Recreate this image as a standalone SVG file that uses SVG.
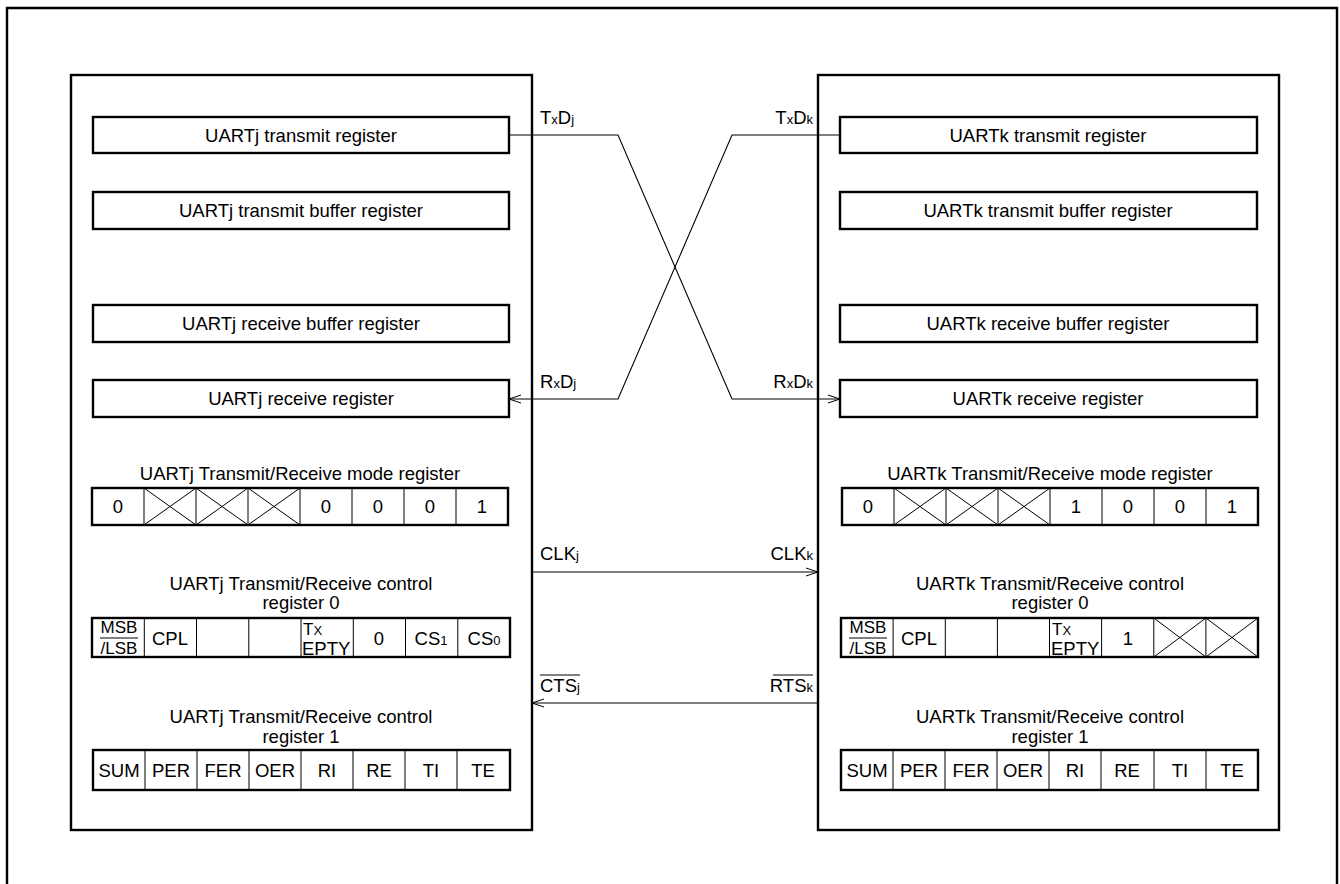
<svg xmlns="http://www.w3.org/2000/svg" width="1340" height="884" viewBox="0 0 1340 884">
<defs>
<style>
.thick{fill:none;stroke:#000;stroke-width:2.4}
.thin{fill:none;stroke:#000;stroke-width:1}
.conn{fill:none;stroke:#000;stroke-width:1.1}
text{font-family:"Liberation Sans",Arial,sans-serif;font-size:18.5px;fill:#000}
.c{text-anchor:middle}
.r{text-anchor:end}
.s{font-size:13px}
.m{font-size:17px}
.e{font-size:18.5px}
</style>
<marker id="ah" viewBox="0 0 12 10" refX="12" refY="5" markerWidth="12" markerHeight="10" markerUnits="userSpaceOnUse" orient="auto">
<path d="M0,1 L12,5 L0,9" fill="none" stroke="#000" stroke-width="1"/>
</marker>
</defs>
<rect width="1340" height="884" fill="#fff"/>
<path class="thick" d="M7,886 V8 H1337 V886"/>

<g id="uartj">
<rect class="thick" x="71" y="75" width="461" height="755"/>
<g id="j-tx"><rect class="thick" x="93" y="117" width="416" height="36"/><text class="c" x="301" y="142">UARTj transmit register</text></g>
<g id="j-txbuf"><rect class="thick" x="93" y="192" width="416" height="37"/><text class="c" x="301" y="217">UARTj transmit buffer register</text></g>
<g id="j-rxbuf"><rect class="thick" x="93" y="305" width="416" height="37"/><text class="c" x="301" y="330">UARTj receive buffer register</text></g>
<g id="j-rx"><rect class="thick" x="93" y="380" width="416" height="37"/><text class="c" x="301" y="405">UARTj receive register</text></g>
<g id="j-mode">
<text class="c" x="300" y="480">UARTj Transmit/Receive mode register</text>
<rect class="thick" x="92" y="488" width="416" height="37"/>
<path class="thin" d="M144,488V525M196,488V525M248,488V525M300,488V525M352,488V525M404,488V525M456,488V525"/>
<path class="thin" d="M144,488L196,525M144,525L196,488M196,488L248,525M196,525L248,488M248,488L300,525M248,525L300,488"/>
<text class="c" x="118" y="513">0</text><text class="c" x="326" y="513">0</text><text class="c" x="378" y="513">0</text><text class="c" x="430" y="513">0</text><text class="c" x="482" y="513">1</text>
</g>
<g id="j-ctrl0">
<text class="c" x="301" y="590">UARTj Transmit/Receive control</text>
<text class="c" x="301" y="609">register 0</text>
<rect class="thick" x="92" y="618" width="418" height="39"/>
<path class="thin" d="M144.3,618V657M196.5,618V657M248.8,618V657M301,618V657M353.3,618V657M405.5,618V657M457.8,618V657"/>
<text class="m c" x="119" y="633">MSB</text><path class="thin" d="M100,638H138"/><text class="m c" x="119" y="654">/LSB</text>
<text class="c" x="170" y="645">CPL</text>
<text class="m" x="303" y="635">T<tspan class="s">X</tspan></text><text class="e" x="302" y="655">EPTY</text>
<text class="c" x="379" y="645">0</text>
<text class="c" x="431" y="645">CS<tspan class="s">1</tspan></text>
<text class="c" x="484" y="645">CS<tspan class="s">0</tspan></text>
</g>
<g id="j-ctrl1">
<text class="c" x="301" y="723">UARTj Transmit/Receive control</text>
<text class="c" x="301" y="743">register 1</text>
<rect class="thick" x="93" y="750" width="417" height="40"/>
<path class="thin" d="M145,750V790M197,750V790M249,750V790M301,750V790M353,750V790M405,750V790M457,750V790"/>
<text class="c" x="119" y="777">SUM</text><text class="c" x="171" y="777">PER</text><text class="c" x="223" y="777">FER</text><text class="c" x="275" y="777">OER</text><text class="c" x="327" y="777">RI</text><text class="c" x="379" y="777">RE</text><text class="c" x="431" y="777">TI</text><text class="c" x="483" y="777">TE</text>
</g>
</g>

<g id="uartk">
<rect class="thick" x="818" y="75" width="461" height="755"/>
<g id="k-tx"><rect class="thick" x="840" y="117" width="417" height="36"/><text class="c" x="1048" y="142">UARTk transmit register</text></g>
<g id="k-txbuf"><rect class="thick" x="840" y="192" width="417" height="37"/><text class="c" x="1048" y="217">UARTk transmit buffer register</text></g>
<g id="k-rxbuf"><rect class="thick" x="840" y="305" width="417" height="37"/><text class="c" x="1048" y="330">UARTk receive buffer register</text></g>
<g id="k-rx"><rect class="thick" x="840" y="380" width="417" height="37"/><text class="c" x="1048" y="405">UARTk receive register</text></g>
<g id="k-mode">
<text class="c" x="1050" y="480">UARTk Transmit/Receive mode register</text>
<rect class="thick" x="842" y="488" width="416" height="37"/>
<path class="thin" d="M894,488V525M946,488V525M998,488V525M1050,488V525M1102,488V525M1154,488V525M1206,488V525"/>
<path class="thin" d="M894,488L946,525M894,525L946,488M946,488L998,525M946,525L998,488M998,488L1050,525M998,525L1050,488"/>
<text class="c" x="868" y="513">0</text><text class="c" x="1076" y="513">1</text><text class="c" x="1128" y="513">0</text><text class="c" x="1180" y="513">0</text><text class="c" x="1232" y="513">1</text>
</g>
<g id="k-ctrl0">
<text class="c" x="1050" y="590">UARTk Transmit/Receive control</text>
<text class="c" x="1050" y="609">register 0</text>
<rect class="thick" x="841" y="618" width="417" height="39"/>
<path class="thin" d="M893.1,618V657M945.3,618V657M997.4,618V657M1049.5,618V657M1101.6,618V657M1153.8,618V657M1205.9,618V657"/>
<text class="m c" x="868" y="633">MSB</text><path class="thin" d="M849,638H887"/><text class="m c" x="868" y="654">/LSB</text>
<text class="c" x="919" y="645">CPL</text>
<text class="m" x="1052" y="635">T<tspan class="s">X</tspan></text><text class="e" x="1051" y="655">EPTY</text>
<text class="c" x="1128" y="645">1</text>
<path class="thin" d="M1153.8,618L1205.9,657M1153.8,657L1205.9,618M1205.9,618L1258,657M1205.9,657L1258,618"/>
</g>
<g id="k-ctrl1">
<text class="c" x="1050" y="723">UARTk Transmit/Receive control</text>
<text class="c" x="1050" y="743">register 1</text>
<rect class="thick" x="841" y="750" width="417" height="40"/>
<path class="thin" d="M893,750V790M945,750V790M997,750V790M1049,750V790M1101,750V790M1154,750V790M1206,750V790"/>
<text class="c" x="867" y="777">SUM</text><text class="c" x="919" y="777">PER</text><text class="c" x="971" y="777">FER</text><text class="c" x="1023" y="777">OER</text><text class="c" x="1075" y="777">RI</text><text class="c" x="1127" y="777">RE</text><text class="c" x="1180" y="777">TI</text><text class="c" x="1232" y="777">TE</text>
</g>
</g>

<g id="connectors">
<path class="conn" d="M509,135H618L732,399H840" marker-end="url(#ah)"/>
<path class="conn" d="M840,135H732L618,399H509" marker-end="url(#ah)"/>
<path class="conn" d="M532,572H818" marker-end="url(#ah)"/>
<path class="conn" d="M818,703H532" marker-end="url(#ah)"/>
</g>

<g id="labels">
<text x="540" y="124">T<tspan class="s">x</tspan>D<tspan class="s">j</tspan></text>
<text class="r" x="813" y="124">T<tspan class="s">x</tspan>D<tspan class="s">k</tspan></text>
<text x="540" y="388">R<tspan class="s">x</tspan>D<tspan class="s">j</tspan></text>
<text class="r" x="813" y="388">R<tspan class="s">x</tspan>D<tspan class="s">k</tspan></text>
<text x="540" y="560">CLK<tspan class="s">j</tspan></text>
<text class="r" x="813" y="560">CLK<tspan class="s">k</tspan></text>
<text x="540" y="692">CTS<tspan class="s">j</tspan></text>
<path class="thin" d="M540,675H580"/>
<text class="r" x="813" y="692">RTS<tspan class="s">k</tspan></text>
<path class="thin" d="M773,675H813"/>
</g>
</svg>
